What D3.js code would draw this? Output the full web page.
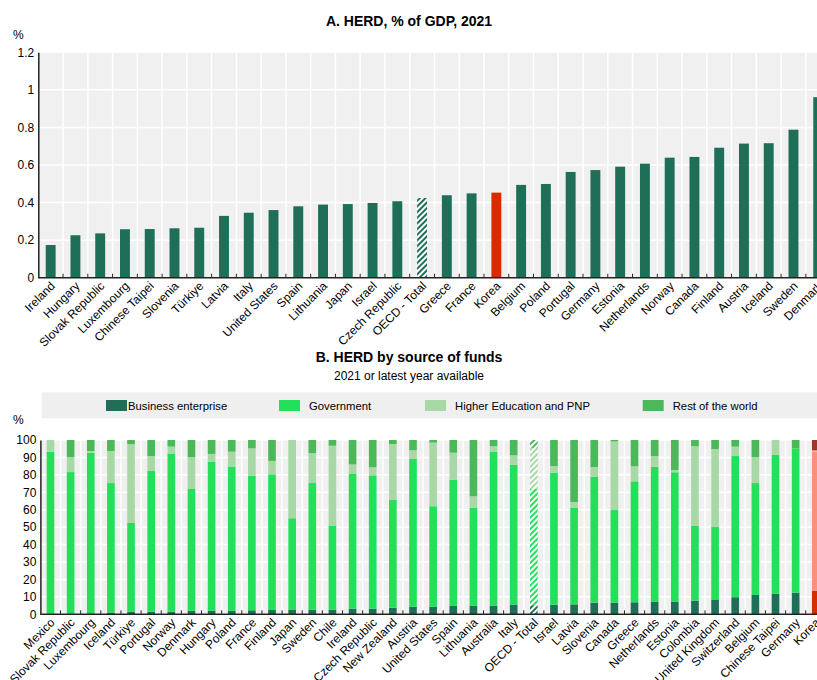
<!DOCTYPE html>
<html>
<head>
<meta charset="utf-8">
<script src="https://cdn.jsdelivr.net/npm/d3@7"></script>
<style>
body { margin: 0; background: #fff; }
svg { display: block; font-family: "Liberation Sans", Arial, sans-serif; }
</style>
</head>
<body>
<svg id="chart" width="817" height="680"></svg>
<script>
// panel A
const topCountries = ["Ireland","Hungary","Slovak Republic","Luxembourg","Chinese Taipei","Slovenia","Türkiye","Latvia","Italy","United States","Spain","Lithuania","Japan","Israel","Czech Republic","OECD - Total","Greece","France","Korea","Belgium","Poland","Portugal","Germany","Estonia","Netherlands","Norway","Canada","Finland","Austria","Iceland","Sweden","Denmark"]
const topValues = [0.174,0.226,0.236,0.258,0.259,0.263,0.266,0.329,0.346,0.360,0.380,0.389,0.392,0.398,0.407,0.424,0.439,0.449,0.453,0.494,0.499,0.563,0.573,0.591,0.607,0.639,0.643,0.692,0.714,0.716,0.788,0.961]
const topTicks = [0,0.2,0.4,0.6,0.8,1,1.2]

// panel B
const bottomCountries = ["Mexico","Slovak Republic","Luxembourg","Iceland","Türkiye","Portugal","Norway","Denmark","Hungary","Poland","France","Finland","Japan","Sweden","Chile","Ireland","Czech Republic","New Zealand","Austria","United States","Spain","Lithuania","Australia","Italy","OECD - Total","Israel","Latvia","Slovenia","Canada","Greece","Netherlands","Estonia","Colombia","United Kingdom","Switzerland","Belgium","Chinese Taipei","Germany","Korea"]
const business   = [0.3,0.3,0.5,1.0,1.5,1.5,1.5,2.0,2.0,2.0,2.3,2.5,2.5,2.7,2.7,3.2,3.2,3.8,4.4,4.4,4.8,5.0,5.0,5.6,5.2,5.5,5.7,6.7,6.7,6.9,7.3,7.3,7.8,8.2,9.8,11.1,11.9,12.4,13.5]
const government = [93.0,81.3,92.2,74.3,50.9,80.7,90.5,69.9,85.4,82.5,77.2,77.8,52.6,72.6,48.0,77.3,76.5,61.8,84.7,57.6,72.3,56.0,88.1,80.1,66.8,75.8,55.3,72.1,53.1,69.4,77.4,74.2,42.9,42.1,81.0,64.2,79.5,82.8,80.0]
const higherEd   = [6.7,8.6,1.0,18.4,45.3,8.6,4.2,18.3,4.6,8.8,15.7,7.7,44.9,17.2,46.0,5.5,4.6,32.1,5.0,36.5,15.6,6.7,3.3,5.5,23.5,3.8,3.4,5.7,39.4,8.6,6.1,1.3,45.7,44.5,5.4,14.9,8.6,0.0,0.5]
const restWorld  = [0.0,9.8,6.3,6.3,2.3,9.2,3.8,9.8,8.0,6.7,4.8,12.0,0.0,7.5,3.3,14.0,15.7,2.3,5.9,1.5,7.3,32.3,3.6,8.8,4.5,14.9,35.6,15.5,0.8,15.1,9.2,17.2,3.6,5.2,3.8,9.8,0.0,4.8,6.0]
const bottomTicks = [0,10,20,30,40,50,60,70,80,90,100]
const sources = ["Business enterprise","Government","Higher Education and PNP","Rest of the world"]

const green = ["#1e6e58","#22e05a","#a8d8a6","#4cb85a"]
const red = ["#d62d00","#f7917a","#f9c0ae","#983a2a"]
const darkGreen = "#1e6e58"

const svg = d3.select("#chart")
const defs = svg.append("defs")

function hatch(id, color){
	const p = defs.append("pattern")
		.attr("id", id)
		.attr("patternUnits", "userSpaceOnUse")
		.attr("width", 4)
		.attr("height", 4)
		.attr("patternTransform", "rotate(45)")
	p.append("rect").attr("width", 4).attr("height", 4).attr("fill", "#fff")
	p.append("rect").attr("width", 2).attr("height", 4).attr("fill", color)
}
hatch("hatchTop", darkGreen)
green.forEach((c, i) => hatch("hatch" + i, c))

// ---------- Panel A ----------
let xA = d3.scaleBand()
	.domain(topCountries)
	.range([38.3, 38.3 + 32 * 24.76])

let yA = d3.scaleLinear()
	.domain([0, 1.2])
	.range([277.7, 52.3])

let gA = svg.append("g")

gA.append("rect")
	.attr("x", xA.range()[0])
	.attr("y", yA(1.2))
	.attr("width", xA.range()[1] - xA.range()[0])
	.attr("height", yA(0) - yA(1.2))
	.attr("fill", "#f0f0f0")

gA.selectAll(".hgrid")
	.data(topTicks)
	.enter()
	.append("line")
	.attr("x1", xA.range()[0])
	.attr("x2", xA.range()[1])
	.attr("y1", d => yA(d))
	.attr("y2", d => yA(d))
	.attr("stroke", "#fff")
	.attr("stroke-width", 1.5)

gA.selectAll(".vgrid")
	.data(topCountries.slice(1))
	.enter()
	.append("line")
	.attr("x1", d => xA(d))
	.attr("x2", d => xA(d))
	.attr("y1", yA(1.2))
	.attr("y2", yA(0))
	.attr("stroke", "#fff")
	.attr("stroke-width", 1.5)

let barWA = xA.bandwidth() * 0.4

gA.selectAll(".barA")
	.data(topCountries)
	.enter()
	.append("rect")
	.attr("x", d => xA(d) + (xA.bandwidth() - barWA) / 2)
	.attr("y", (d, i) => yA(topValues[i]))
	.attr("width", barWA)
	.attr("height", (d, i) => yA(0) - yA(topValues[i]))
	.attr("fill", d => d == "Korea" ? red[0] : d == "OECD - Total" ? "url(#hatchTop)" : darkGreen)

let yAxisA = gA.append("g")
	.attr("transform", `translate(${xA.range()[0]},0)`)
	.call(d3.axisLeft(yA).tickValues(topTicks).tickFormat(d3.format("~g")).tickSize(0).tickPadding(4))
yAxisA.select(".domain").attr("stroke", "#222").attr("stroke-width", 1.5)
yAxisA.selectAll("text").attr("font-size", 12).attr("fill", "#000")

let xAxisA = gA.append("g")
	.attr("transform", `translate(0,${yA(0)})`)
xAxisA.append("line")
	.attr("x1", xA.range()[0])
	.attr("x2", xA.range()[1])
	.attr("stroke", "#222")
	.attr("stroke-width", 1.5)
xAxisA.selectAll(".tk")
	.data(topCountries.slice(1))
	.enter()
	.append("line")
	.attr("x1", d => xA(d))
	.attr("x2", d => xA(d))
	.attr("y1", -4)
	.attr("y2", 0)
	.attr("stroke", "#222")
xAxisA.selectAll(".lbl")
	.data(topCountries)
	.enter()
	.append("text")
	.attr("transform", d => `translate(${xA(d) + xA.bandwidth() / 2 + 5},9) rotate(-45)`)
	.attr("text-anchor", "end")
	.attr("font-size", 12)
	.text(d => d)

svg.append("text")
	.attr("x", 409)
	.attr("y", 26)
	.attr("text-anchor", "middle")
	.attr("font-weight", "bold")
	.attr("font-size", 14)
	.text("A. HERD, % of GDP, 2021")

svg.append("text")
	.attr("x", 13)
	.attr("y", 39)
	.attr("font-size", 12)
	.text("%")

// ---------- Panel B ----------
let xB = d3.scaleBand()
	.domain(bottomCountries)
	.range([40.4, 40.4 + 39 * 20.14])

let yB = d3.scaleLinear()
	.domain([0, 100])
	.range([614.3, 440])

let gB = svg.append("g")

gB.append("rect")
	.attr("x", xB.range()[0])
	.attr("y", yB(100))
	.attr("width", xB.range()[1] - xB.range()[0])
	.attr("height", yB(0) - yB(100))
	.attr("fill", "#f0f0f0")

gB.selectAll(".hgrid")
	.data(bottomTicks)
	.enter()
	.append("line")
	.attr("x1", xB.range()[0])
	.attr("x2", xB.range()[1])
	.attr("y1", d => yB(d))
	.attr("y2", d => yB(d))
	.attr("stroke", "#fff")
	.attr("stroke-width", 1.5)

gB.selectAll(".vgrid")
	.data(bottomCountries.slice(1))
	.enter()
	.append("line")
	.attr("x1", d => xB(d))
	.attr("x2", d => xB(d))
	.attr("y1", yB(100))
	.attr("y2", yB(0))
	.attr("stroke", "#fff")
	.attr("stroke-width", 1.5)

let rows = bottomCountries.map((c, i) => ({
	country: c, s0: business[i], s1: government[i], s2: higherEd[i], s3: restWorld[i]
}))

let stack = d3.stack().keys(["s0","s1","s2","s3"])(rows)

let barWB = xB.bandwidth() * 0.38

stack.forEach(function(layer, k){
	gB.selectAll(".seg" + k)
		.data(layer)
		.enter()
		.append("rect")
		.attr("x", d => xB(d.data.country) + (xB.bandwidth() - barWB) / 2)
		.attr("y", d => yB(d[1]))
		.attr("width", barWB)
		.attr("height", d => yB(d[0]) - yB(d[1]))
		.attr("fill", d => d.data.country == "Korea" ? red[k] : d.data.country == "OECD - Total" ? `url(#hatch${k})` : green[k])
})

let yAxisB = gB.append("g")
	.attr("transform", `translate(${xB.range()[0]},0)`)
	.call(d3.axisLeft(yB).tickValues(bottomTicks).tickSize(0).tickPadding(4))
yAxisB.select(".domain").attr("stroke", "#222").attr("stroke-width", 1.5)
yAxisB.selectAll("text").attr("font-size", 12).attr("fill", "#000")

let xAxisB = gB.append("g")
	.attr("transform", `translate(0,${yB(0)})`)
xAxisB.append("line")
	.attr("x1", xB.range()[0])
	.attr("x2", xB.range()[1])
	.attr("stroke", "#222")
	.attr("stroke-width", 1.5)
xAxisB.selectAll(".tk")
	.data(bottomCountries.slice(1))
	.enter()
	.append("line")
	.attr("x1", d => xB(d))
	.attr("x2", d => xB(d))
	.attr("y1", -4)
	.attr("y2", 0)
	.attr("stroke", "#222")
xAxisB.selectAll(".lbl")
	.data(bottomCountries)
	.enter()
	.append("text")
	.attr("transform", d => `translate(${xB(d) + xB.bandwidth() / 2 + 5},9) rotate(-45)`)
	.attr("text-anchor", "end")
	.attr("font-size", 12)
	.text(d => d)

svg.append("text")
	.attr("x", 409)
	.attr("y", 362)
	.attr("text-anchor", "middle")
	.attr("font-weight", "bold")
	.attr("font-size", 14)
	.text("B. HERD by source of funds")

svg.append("text")
	.attr("x", 409)
	.attr("y", 380)
	.attr("text-anchor", "middle")
	.attr("font-size", 12)
	.text("2021 or latest year available")

svg.append("text")
	.attr("x", 13)
	.attr("y", 424)
	.attr("font-size", 12)
	.text("%")

// legend
svg.append("rect")
	.attr("x", 41.7)
	.attr("y", 392.3)
	.attr("width", 780)
	.attr("height", 26)
	.attr("fill", "#efefef")

let legendX = [106, 279, 425, 642.7]

let leg = svg.selectAll(".leg")
	.data(sources)
	.enter()
	.append("g")
	.attr("transform", (d, i) => `translate(${legendX[i]},400)`)
leg.append("rect")
	.attr("width", 21)
	.attr("height", 11)
	.attr("fill", (d, i) => green[i])
leg.append("text")
	.attr("x", (d, i) => i == 0 ? 22 : 30)
	.attr("y", 10)
	.attr("font-size", 11.3)
	.text(d => d)
</script>
</body>
</html>
